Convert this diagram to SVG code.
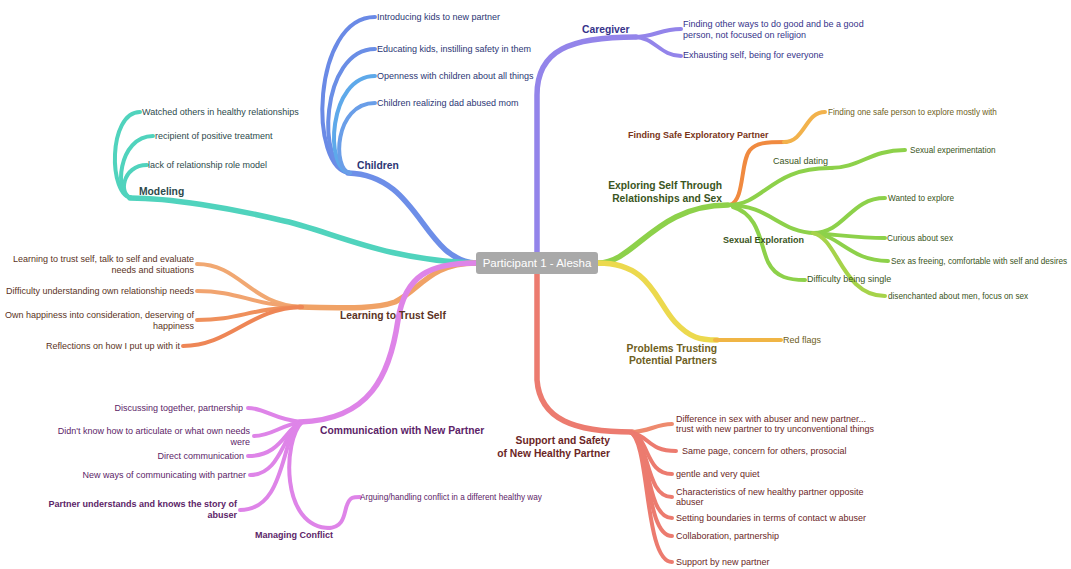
<svg xmlns="http://www.w3.org/2000/svg" width="1071" height="569" viewBox="0 0 1071 569">
<style>
text{font-family:"Liberation Sans",Arial,sans-serif;font-size:9px}
.l{font-weight:bold;font-size:10.3px}
.s{font-weight:bold}
.sm{font-size:8.2px}
.e{text-anchor:end}
.c path{fill:none;stroke-linecap:round}
.m{stroke-width:5.5}
.b{stroke-width:4}
.navy{fill:#2c3674}.tealt{fill:#2d4a4c}.indigo{fill:#36338a}.brown{fill:#5b3324}
.purp{fill:#5c2468}.maroon{fill:#6b2626}.green{fill:#3a5522}.olive{fill:#6e6022}.rust{fill:#7a3418}
</style>
<rect width="1071" height="569" fill="#fff"/>
<g id="connectors" class="c">
  <!-- caregiver -->
  <path class="m" stroke="#9384ea" d="M537,252 L537,95 C537,50 570,37 636,37"/>
  <path class="b" stroke="#9384ea" d="M634,37 C655,37 660,29 681,29"/>
  <path class="b" stroke="#9384ea" d="M634,37 C655,37 660,56 681,56"/>
  <!-- children -->
  <path class="m" stroke="#6d8ee8" d="M476,263 C422,260 420,175 348,173"/>
  <path class="b" stroke="#6a8ae6" d="M350,173 C308,170 312,17 375,17"/>
  <path class="b" stroke="#6a8ee6" d="M350,173 C316,170 320,49 375,49"/>
  <path class="b" stroke="#5ea9ea" d="M350,173 C324,170 328,76 375,76"/>
  <path class="b" stroke="#6a9ee8" d="M350,173 C332,170 334,103 375,103"/>
  <!-- modeling -->
  <path class="m" stroke="#50d3bd" d="M476,263 C380,260 330,230 280,220 C230,208 170,198 130,198"/>
  <path class="b" stroke="#50d3bd" d="M132,198 C108,196 108,112 140,112"/>
  <path class="b" stroke="#50d3bd" d="M132,198 C113,196 118,136 153,136"/>
  <path class="b" stroke="#50d3bd" d="M132,198 C118,196 122,165 147,165"/>
  <!-- learning -->
  <path class="m" stroke="#f0a266" d="M476,263 C430,263 420,290 395,302 C375,309 350,308 300,307"/>
  <path class="b" stroke="#f1a872" d="M302,307 C250,305 240,264 197,264"/>
  <path class="b" stroke="#f1a470" d="M302,307 C250,305 240,291 197,291"/>
  <path class="b" stroke="#ef905c" d="M302,307 C250,308 240,320 197,320"/>
  <path class="b" stroke="#ee8656" d="M302,307 C250,308 230,346 183,346"/>
  <!-- communication -->
  <path class="m" stroke="#de84e8" d="M476,263 C430,263 405,275 398,320 C390,375 370,420 300,422"/>
  <path class="b" stroke="#de84e8" d="M302,422 C275,420 265,408 248,408"/>
  <path class="b" stroke="#de84e8" d="M302,422 C280,425 272,436 254,436"/>
  <path class="b" stroke="#de84e8" d="M302,422 C285,428 282,456 248,456"/>
  <path class="b" stroke="#de84e8" d="M302,422 C283,430 282,475 250,475"/>
  <path class="b" stroke="#de84e8" d="M302,422 C280,432 288,510 240,510"/>
  <path class="b" stroke="#de84e8" d="M302,422 C283,440 280,528 330,528"/>
  <path class="b" stroke="#de84e8" d="M328,528 C345,528 344,512 347,505 C350,497 353,497 360,497"/>
  <!-- support -->
  <path class="m" stroke="#ec7b6f" d="M537,274 L537,380 C540,420 575,432 632,432"/>
  <path class="b" stroke="#ee8a6e" d="M630,432 C650,432 655,424 672,424"/>
  <path class="b" stroke="#ec7b6f" d="M630,432 C650,436 648,451 676,451"/>
  <path class="b" stroke="#ec7b6f" d="M630,432 C650,438 645,474 672,474"/>
  <path class="b" stroke="#ec7b6f" d="M630,432 C650,440 645,497 672,497"/>
  <path class="b" stroke="#ec7b6f" d="M630,432 C650,440 645,518 672,518"/>
  <path class="b" stroke="#ec7b6f" d="M630,432 C650,440 645,536 672,536"/>
  <path class="b" stroke="#ec7b6f" d="M630,432 C650,440 644,562 672,562"/>
  <!-- exploring -->
  <path class="m" stroke="#8dd14a" d="M598,263 C635,263 655,205 728,205"/>
  <path class="b" stroke="#f08a40" d="M730,205 C745,200 740,162 750,150 C756,143 765,142 786,142"/>
  <path class="b" stroke="#f2b24c" d="M784,142 C805,142 805,112 825,112"/>
  <path class="b" stroke="#8dd14a" d="M728,205 C765,205 770,167 832,168"/>
  <path class="b" stroke="#8dd14a" d="M830,168 C860,168 870,150 905,150"/>
  <path class="b" stroke="#8dd14a" d="M728,205 C770,205 780,233 815,233"/>
  <path class="b" stroke="#8dd14a" d="M813,233 C845,233 850,198 885,198"/>
  <path class="b" stroke="#8dd14a" d="M813,233 C840,235 860,238 885,238"/>
  <path class="b" stroke="#8dd14a" d="M813,233 C840,235 850,261 888,261"/>
  <path class="b" stroke="#a6d34a" d="M813,233 C838,238 842,296 885,296"/>
  <path class="b" stroke="#8dd14a" d="M733,207 C760,215 760,245 768,262 C776,278 790,280 805,280"/>
  <!-- problems trusting -->
  <path class="m" stroke="#ecd94e" d="M598,263 C650,263 655,300 675,322 C690,338 700,340 717,340"/>
  <path class="b" stroke="#f0b545" d="M715,340 L781,340"/>
</g>
<g id="center">
  <rect x="476" y="252" width="122" height="22" rx="3" fill="#a9a9a9"/>
  <text x="537" y="267" text-anchor="middle" fill="#fff" style="font-size:11.5px">Participant 1 - Alesha</text>
</g>
<g id="caregiver">
  <text class="l indigo" x="582" y="33">Caregiver</text>
</g>
<g id="cg-1"><text class="indigo" x="683" y="27">Finding other ways to do good and be a good</text><text class="indigo" x="683" y="38">person, not focused on religion</text></g>
<g id="cg-2"><text class="indigo" x="683" y="58">Exhausting self, being for everyone</text></g>
<g id="children"><text class="l navy" x="357" y="169">Children</text></g>
<g id="ch-1"><text class="navy" x="377" y="20">Introducing kids to new partner</text></g>
<g id="ch-2"><text class="navy" x="377" y="52">Educating kids, instilling safety in them</text></g>
<g id="ch-3"><text class="navy" x="377" y="79">Openness with children about all things</text></g>
<g id="ch-4"><text class="navy" x="377" y="106">Children realizing dad abused mom</text></g>
<g id="modeling"><text class="l tealt" x="139" y="195">Modeling</text></g>
<g id="mo-1"><text class="tealt" x="142" y="115">Watched others in healthy relationships</text></g>
<g id="mo-2"><text class="tealt" x="155" y="139">recipient of positive treatment</text></g>
<g id="mo-3"><text class="tealt" x="148" y="168">lack of relationship role model</text></g>
<g id="learning"><text class="l brown" x="340" y="319">Learning to Trust Self</text></g>
<g id="le-1"><text class="brown e" x="194" y="262">Learning to trust self, talk to self and evaluate</text><text class="brown e" x="194" y="273">needs and situations</text></g>
<g id="le-2"><text class="brown e" x="194" y="294">Difficulty understanding own relationship needs</text></g>
<g id="le-3"><text class="brown e" x="194" y="318">Own happiness into consideration, deserving of</text><text class="brown e" x="194" y="329">happiness</text></g>
<g id="le-4"><text class="brown e" x="180" y="349">Reflections on how I put up with it</text></g>
<g id="communication"><text class="l purp" x="320" y="434">Communication with New Partner</text></g>
<g id="co-1"><text class="purp e" x="243" y="411">Discussing together, partnership</text></g>
<g id="co-2"><text class="purp e" x="250" y="434">Didn't know how to articulate or what own needs</text><text class="purp e" x="250" y="445">were</text></g>
<g id="co-3"><text class="purp e" x="244" y="459">Direct communication</text></g>
<g id="co-4"><text class="purp e" x="246" y="478">New ways of communicating with partner</text></g>
<g id="co-5"><text class="purp e s" x="237" y="507">Partner understands and knows the story of</text><text class="purp e s" x="237" y="518">abuser</text></g>
<g id="managing"><text class="purp s" x="255" y="538">Managing Conflict</text></g>
<g id="mc-1"><text class="purp sm" x="360" y="500">Arguing/handling conflict in a different healthy way</text></g>
<g id="support"><text class="l maroon e" x="610" y="444">Support and Safety</text><text class="l maroon e" x="610" y="457">of New Healthy Partner</text></g>
<g id="su-1"><text class="maroon" x="676" y="422">Difference in sex with abuser and new partner...</text><text class="maroon" x="676" y="432">trust with new partner to try unconventional things</text></g>
<g id="su-2"><text class="maroon" x="682" y="454">Same page, concern for others, prosocial</text></g>
<g id="su-3"><text class="maroon" x="676" y="477">gentle and very quiet</text></g>
<g id="su-4"><text class="maroon" x="676" y="495">Characteristics of new healthy partner opposite</text><text class="maroon" x="676" y="505">abuser</text></g>
<g id="su-5"><text class="maroon" x="676" y="521">Setting boundaries in terms of contact w abuser</text></g>
<g id="su-6"><text class="maroon" x="676" y="539">Collaboration, partnership</text></g>
<g id="su-7"><text class="maroon" x="676" y="565">Support by new partner</text></g>
<g id="exploring"><text class="l green e" x="722" y="189">Exploring Self Through</text><text class="l green e" x="722" y="202">Relationships and Sex</text></g>
<g id="finding-safe"><text class="rust s" x="628" y="138">Finding Safe Exploratory Partner</text></g>
<g id="fs-1"><text class="olive sm" x="828" y="115">Finding one safe person to explore mostly with</text></g>
<g id="casual"><text class="green" x="773" y="164">Casual dating</text></g>
<g id="ca-1"><text class="green sm" x="910" y="153">Sexual experimentation</text></g>
<g id="sexual-exploration"><text class="green s" x="723" y="243">Sexual Exploration</text></g>
<g id="se-1"><text class="green sm" x="888" y="201">Wanted to explore</text></g>
<g id="se-2"><text class="green sm" x="887" y="241">Curious about sex</text></g>
<g id="se-3"><text class="green sm" x="891" y="264">Sex as freeing, comfortable with self and desires</text></g>
<g id="se-4"><text class="green sm" x="888" y="299">disenchanted about men, focus on sex</text></g>
<g id="ex-single"><text class="green" x="807" y="282">Difficulty being single</text></g>
<g id="problems"><text class="l olive e" x="717" y="352">Problems Trusting</text><text class="l olive e" x="717" y="364">Potential Partners</text></g>
<g id="pr-1"><text class="olive" x="783" y="343">Red flags</text></g>
</svg>
